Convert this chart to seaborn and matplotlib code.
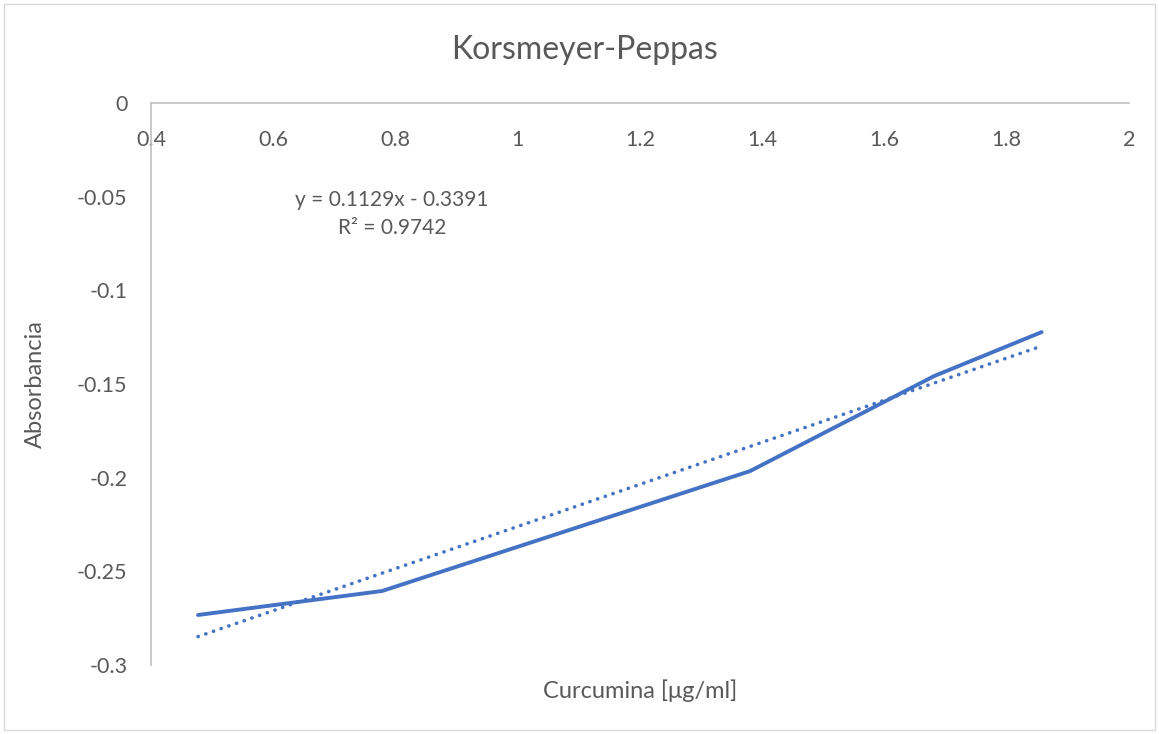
import matplotlib
matplotlib.use("Agg")
import matplotlib.pyplot as plt
import seaborn as sns
import pandas as pd
import numpy as np
from matplotlib.patches import Rectangle

# Data
log_conc = [0.477, 0.778, 1.380, 1.681, 1.857]
absorb = [-0.2733, -0.2605, -0.1965, -0.1458, -0.1223]
x_ticks = [0.4, 0.6, 0.8, 1.0, 1.2, 1.4, 1.6, 1.8, 2.0]
x_tick_labels = ["0.4", "0.6", "0.8", "1", "1.2", "1.4", "1.6", "1.8", "2"]
y_ticks = [0, -0.05, -0.1, -0.15, -0.2, -0.25, -0.3]
y_tick_labels = ["0", "-0.05", "-0.1", "-0.15", "-0.2", "-0.25", "-0.3"]
eq_text = "y = 0.1129x - 0.3391"
r2_text = "R² = 0.9742"

df = pd.DataFrame({"x": log_conc, "y": absorb})

sns.set_theme(style="white")
plt.rcParams['font.family'] = ['Lato', 'DejaVu Sans']

fig = plt.figure(figsize=(11.59, 7.34), dpi=100)
ax = fig.add_axes([151/1159, 1 - 665/734, (1129-151)/1159, (665-103)/734])

blue = "#4472C4"
sns.lineplot(data=df, x="x", y="y", ax=ax, color=blue, linewidth=2.8, sort=False)
sns.regplot(data=df, x="x", y="y", ax=ax, scatter=False, ci=None, truncate=True,
            line_kws=dict(color=blue, linewidth=2.6, linestyle=(0, (0.05, 2.2)),
                          dash_capstyle="round"))

ax.set_xlim(0.4, 2.0)
ax.set_ylim(-0.3, 0)
ax.set_xticks(x_ticks)
ax.set_xticklabels(x_tick_labels)
ax.set_yticks(y_ticks)
ax.set_yticklabels(y_tick_labels)

ax.xaxis.set_ticks_position('top')
ax.tick_params(axis='x', top=False, bottom=False, labeltop=True, labelbottom=False,
               length=0, pad=-33.5, labelsize=15.5, labelcolor="#595959")
ax.tick_params(axis='y', left=False, length=0, labelsize=15.5, labelcolor="#595959", pad=17)

for s in ["right", "bottom"]:
    ax.spines[s].set_visible(False)
for s in ["left", "top"]:
    ax.spines[s].set_color("#BFBFBF")
    ax.spines[s].set_linewidth(1.2)

ax.set_xlabel("Curcumina [μg/ml]", fontsize=17, color="#595959", labelpad=10)
ax.set_ylabel("Absorbancia", fontsize=17, color="#595959", labelpad=22)
ax.xaxis.set_label_position('bottom')

ax.text(0.794, -0.0518, eq_text, ha="center", va="center", fontsize=15, color="#595959")
ax.text(0.794, -0.0667, r2_text, ha="center", va="center", fontsize=15, color="#595959")

fig.text(585/1159, 1 - 50/734, "Korsmeyer-Peppas", ha="center", va="center",
         fontsize=23, color="#595959")

fig.patches.append(Rectangle((4/1159, 4/734), 1 - 8/1159, 1 - 8/734,
                             transform=fig.transFigure, fill=False,
                             edgecolor="#D9D9D9", linewidth=1))

fig.savefig("out.png", dpi=100)
